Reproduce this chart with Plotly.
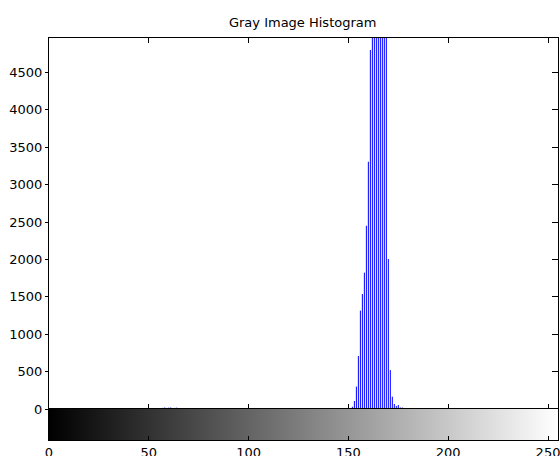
import plotly.graph_objects as go

# Histogram data (gray level -> pixel count)
levels = [57, 58, 60, 61, 63, 64,
          152, 153, 154, 155, 156, 157, 158, 159, 160, 161,
          162, 163, 164, 165, 166, 167, 168, 169,
          170, 171, 172, 173, 174, 175, 176, 177]
counts = [15, 20, 18, 20, 15, 18,
          30, 107, 300, 708, 1315, 1537, 1823, 2450, 3306, 4800,
          5600, 6400, 7200, 7800, 7600, 6900, 6000, 5200,
          2005, 520, 165, 67, 40, 53, 20, 20]

gray_levels = list(range(256))
x_ticks = [0, 50, 100, 150, 200, 250]
y_ticks = [0, 500, 1000, 1500, 2000, 2500, 3000, 3500, 4000, 4500]
y_max = 4960
title = "Gray Image Histogram"

FONT = "DejaVu Sans"

# stems (like MATLAB stem without markers)
stem_x, stem_y = [], []
for lv, c in zip(levels, counts):
    stem_x += [lv, lv, None]
    stem_y += [0, c, None]

fig = go.Figure()

fig.add_trace(go.Scatter(
    x=stem_x, y=stem_y, mode="lines",
    line=dict(color="#0000ff", width=1),
    xaxis="x", yaxis="y", showlegend=False, cliponaxis=True,
))

# baseline of the stem plot
fig.add_trace(go.Scatter(
    x=[0, 255], y=[0, 0], mode="lines",
    line=dict(color="#000080", width=1),
    xaxis="x", yaxis="y", showlegend=False,
))

fig.add_trace(go.Heatmap(
    x=gray_levels, y=[0], z=[gray_levels],
    colorscale=[[0, "black"], [1, "white"]], zmin=0, zmax=255,
    showscale=False, xaxis="x2", yaxis="y2", hoverinfo="skip",
))

fig.add_trace(go.Scatter(x=[None], y=[None], yaxis="y3", xaxis="x",
                         showlegend=False, hoverinfo="skip"))

cb_frac = 31 / 402

fig.update_layout(
    width=560, height=456,
    margin=dict(l=49, r=2, t=38, b=16, autoexpand=False),
    paper_bgcolor="white", plot_bgcolor="white",
    font=dict(family=FONT, size=13, color="black"),
    title=dict(text=title, x=0.5405, xanchor="center", y=1 - 22 / 456,
               yanchor="middle", font=dict(family=FONT, size=13, color="black")),
    xaxis=dict(domain=[0, 1], range=[0, 255], anchor="y",
               tickvals=x_ticks, showticklabels=False,
               ticks="inside", ticklen=5, tickcolor="black",
               showline=True, linecolor="black", linewidth=1, mirror="ticks",
               showgrid=False, zeroline=False, automargin=False),
    yaxis=dict(domain=[cb_frac, 1], range=[0, y_max], anchor="x",
               tickvals=y_ticks, ticktext=[str(v) for v in y_ticks],
               ticks="outside", ticklen=3, tickcolor="black",
               showline=True, linecolor="black", linewidth=1, mirror=True,
               showgrid=False, zeroline=False, automargin=False),
    yaxis3=dict(overlaying="y", side="right", range=[0, y_max], anchor="x",
                tickvals=y_ticks, showticklabels=False,
                ticks="inside", ticklen=6, tickcolor="black",
                showline=False, showgrid=False, zeroline=False, automargin=False),
    xaxis2=dict(domain=[0, 1], range=[0, 255], anchor="y2",
                tickvals=x_ticks, ticktext=[str(v) for v in x_ticks],
                ticks="inside", ticklen=4, tickcolor="black",
                ticklabeloverflow="allow",
                showline=True, linecolor="black", linewidth=1, mirror=True,
                showgrid=False, zeroline=False, automargin=False),
    yaxis2=dict(domain=[0, cb_frac], range=[-0.5, 0.5], anchor="x2",
                showticklabels=False, ticks="",
                showline=True, linecolor="black", linewidth=1, mirror=True,
                showgrid=False, zeroline=False, automargin=False),
)

fig.write_html("out.html",
               config={"displayModeBar": False},
               post_script="document.body.style.margin='0';"
                           "document.body.style.overflow='hidden';")
